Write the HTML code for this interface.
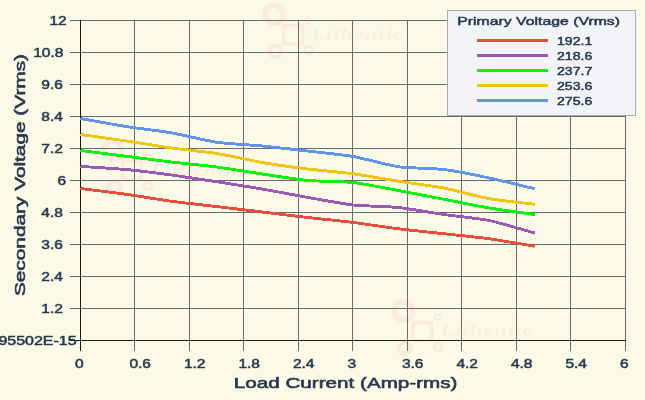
<!DOCTYPE html>
<html lang="en"><head><meta charset="utf-8"><title>Secondary Voltage vs Load Current</title>
<style>html,body{margin:0;padding:0;background:#fbfae6;}body{width:645px;height:400px;overflow:hidden}</style>
</head><body>
<svg width="645" height="400" viewBox="0 0 645 400" style="display:block">
<rect width="645" height="400" fill="#fbfae6"/>
<g transform="translate(0,0)" fill="none" stroke="#fbebd9"><circle cx="274.1" cy="14.2" r="9.1" stroke-width="5.8"/><path fill="#fbebd9" stroke="none" fill-rule="evenodd" d="M282.1,24.1h22.3v21.5h-22.3zM291,27h4a6,6 0 0 1 6,6v3.6a6,6 0 0 1 -6,6h-4a6,6 0 0 1 -6,-6v-3.6a6,6 0 0 1 6,-6z"/><circle cx="308.1" cy="20.6" r="2.8" stroke-width="1.9"/><circle cx="309" cy="50" r="3.95" stroke-width="2.9"/><circle cx="275.6" cy="51.25" r="5.8" stroke-width="4.6"/><text transform="translate(311.3,39.5) scale(1.36,1)" fill="#fceedd" stroke="none" font-family="&quot;Liberation Serif&quot;, &quot;Times New Roman&quot;, serif" font-style="italic" font-weight="bold" font-size="16" letter-spacing="1">Lithentic</text></g>
<g transform="translate(-161.25,135.75)" fill="none" stroke="#fbebd9"><circle cx="274.1" cy="14.2" r="9.1" stroke-width="5.8"/><path fill="#fbebd9" stroke="none" fill-rule="evenodd" d="M282.1,24.1h22.3v21.5h-22.3zM291,27h4a6,6 0 0 1 6,6v3.6a6,6 0 0 1 -6,6h-4a6,6 0 0 1 -6,-6v-3.6a6,6 0 0 1 6,-6z"/><circle cx="308.1" cy="20.6" r="2.8" stroke-width="1.9"/><circle cx="309" cy="50" r="3.95" stroke-width="2.9"/><circle cx="275.6" cy="51.25" r="5.8" stroke-width="4.6"/><text transform="translate(311.3,39.5) scale(1.36,1)" fill="#fceedd" stroke="none" font-family="&quot;Liberation Serif&quot;, &quot;Times New Roman&quot;, serif" font-style="italic" font-weight="bold" font-size="16" letter-spacing="1">Lithentic</text></g>
<g transform="translate(129.25,296.75)" fill="none" stroke="#fbebd9"><circle cx="274.1" cy="14.2" r="9.1" stroke-width="5.8"/><path fill="#fbebd9" stroke="none" fill-rule="evenodd" d="M282.1,24.1h22.3v21.5h-22.3zM291,27h4a6,6 0 0 1 6,6v3.6a6,6 0 0 1 -6,6h-4a6,6 0 0 1 -6,-6v-3.6a6,6 0 0 1 6,-6z"/><circle cx="308.1" cy="20.6" r="2.8" stroke-width="1.9"/><circle cx="309" cy="50" r="3.95" stroke-width="2.9"/><circle cx="275.6" cy="51.25" r="5.8" stroke-width="4.6"/><text transform="translate(311.3,39.5) scale(1.36,1)" fill="#fceedd" stroke="none" font-family="&quot;Liberation Serif&quot;, &quot;Times New Roman&quot;, serif" font-style="italic" font-weight="bold" font-size="16" letter-spacing="1">Lithentic</text></g>
<rect x="70" y="20" width="555.5" height="1" fill="#676b72"/><rect x="70" y="52" width="555.5" height="1" fill="#676b72"/><rect x="70" y="84" width="555.5" height="1" fill="#676b72"/><rect x="70" y="116" width="555.5" height="1" fill="#676b72"/><rect x="70" y="148" width="555.5" height="1" fill="#676b72"/><rect x="70" y="180" width="555.5" height="1" fill="#676b72"/><rect x="70" y="212" width="555.5" height="1" fill="#676b72"/><rect x="70" y="244" width="555.5" height="1" fill="#676b72"/><rect x="70" y="276" width="555.5" height="1" fill="#676b72"/><rect x="70" y="308" width="555.5" height="1" fill="#676b72"/><rect x="134" y="20" width="1" height="330.9" fill="#676b72"/><rect x="189" y="20" width="1" height="330.9" fill="#676b72"/><rect x="243" y="20" width="1" height="330.9" fill="#676b72"/><rect x="298" y="20" width="1" height="330.9" fill="#676b72"/><rect x="352" y="20" width="1" height="330.9" fill="#676b72"/><rect x="407" y="20" width="1" height="330.9" fill="#676b72"/><rect x="461" y="20" width="1" height="330.9" fill="#676b72"/><rect x="516" y="20" width="1" height="330.9" fill="#676b72"/><rect x="570" y="20" width="1" height="330.9" fill="#676b72"/><rect x="625" y="20" width="1" height="330.9" fill="#676b72"/>
<rect x="80" y="20" width="1" height="330.9" fill="#1c1a08"/>
<rect x="70" y="340" width="555.5" height="1" fill="#1c1a08"/>
<path d="M80.50,188.50C85.04,189.07 116.83,192.97 125.92,194.25C135.00,195.53 162.25,200.01 171.33,201.25C180.42,202.49 207.67,205.53 216.75,206.60C225.83,207.67 253.08,210.91 262.17,212.00C271.25,213.09 298.50,216.46 307.58,217.50C316.67,218.54 343.92,221.27 353.00,222.40C362.08,223.53 389.33,227.67 398.42,228.80C407.50,229.94 434.75,232.75 443.83,233.75C452.92,234.75 480.17,237.50 489.25,238.75C498.33,240.00 530.12,245.50 534.67,246.25" fill="none" stroke="#e74c3c" stroke-width="2.9" stroke-linejoin="round" shape-rendering="crispEdges"/>
<path d="M80.50,166.40C85.04,166.71 116.83,168.64 125.92,169.50C135.00,170.36 162.25,173.78 171.33,175.00C180.42,176.22 207.67,180.35 216.75,181.75C225.83,183.15 253.08,187.44 262.17,189.00C271.25,190.56 298.50,195.80 307.58,197.40C316.67,199.00 343.92,203.99 353.00,205.00C362.08,206.01 389.33,206.55 398.42,207.50C407.50,208.45 434.75,213.20 443.83,214.50C452.92,215.80 480.17,218.65 489.25,220.50C498.33,222.35 530.12,231.75 534.67,233.00" fill="none" stroke="#9b59b6" stroke-width="2.9" stroke-linejoin="round" shape-rendering="crispEdges"/>
<path d="M80.50,150.50C85.04,151.07 116.83,155.10 125.92,156.25C135.00,157.40 162.25,160.93 171.33,162.00C180.42,163.07 207.67,165.80 216.75,167.00C225.83,168.20 253.08,172.65 262.17,174.00C271.25,175.35 298.50,179.65 307.58,180.50C316.67,181.35 343.92,181.50 353.00,182.50C362.08,183.50 389.33,188.82 398.42,190.50C407.50,192.18 434.75,197.50 443.83,199.25C452.92,201.00 480.17,206.47 489.25,208.00C498.33,209.53 530.12,213.85 534.67,214.50" fill="none" stroke="#05f50f" stroke-width="2.9" stroke-linejoin="round" shape-rendering="crispEdges"/>
<path d="M80.50,134.50C85.04,135.14 116.83,139.55 125.92,140.90C135.00,142.25 162.25,146.74 171.33,148.00C180.42,149.26 207.67,152.05 216.75,153.50C225.83,154.95 253.08,160.95 262.17,162.50C271.25,164.05 298.50,167.88 307.58,169.00C316.67,170.12 343.92,172.53 353.00,173.75C362.08,174.97 389.33,179.82 398.42,181.25C407.50,182.68 434.75,186.25 443.83,188.00C452.92,189.75 480.17,197.12 489.25,198.75C498.33,200.38 530.12,203.70 534.67,204.25" fill="none" stroke="#f1c40f" stroke-width="2.9" stroke-linejoin="round" shape-rendering="crispEdges"/>
<path d="M80.50,118.50C85.04,119.30 116.83,125.07 125.92,126.50C135.00,127.93 162.25,131.22 171.33,132.80C180.42,134.38 207.67,140.98 216.75,142.30C225.83,143.62 253.08,145.13 262.17,146.00C271.25,146.87 298.50,149.95 307.58,151.00C316.67,152.05 343.92,154.93 353.00,156.50C362.08,158.07 389.33,165.45 398.42,166.75C407.50,168.05 434.75,168.38 443.83,169.50C452.92,170.62 480.17,176.07 489.25,178.00C498.33,179.93 530.12,187.68 534.67,188.75" fill="none" stroke="#5f93ee" stroke-width="2.9" stroke-linejoin="round" shape-rendering="crispEdges"/>
<rect x="447.5" y="10.5" width="188" height="105" fill="#f3f4f7" stroke="#a4abb6" stroke-width="1"/>
<rect x="477" y="39" width="71" height="3" fill="#e74c3c"/>
<rect x="477" y="54" width="71" height="3" fill="#9b59b6"/>
<rect x="477" y="69" width="71" height="3" fill="#05f50f"/>
<rect x="477" y="84" width="71" height="3" fill="#f1c40f"/>
<rect x="477" y="99" width="71" height="3" fill="#5f93ee"/>
<g font-family="&quot;Liberation Sans&quot;, Arial, Helvetica, sans-serif" fill="#27384f" stroke="#27384f" stroke-width="0.5" stroke-linejoin="round">
<text transform="translate(457.3,24.5) scale(1.375,1)" font-size="11.5" text-anchor="start" >Primary Voltage (Vrms)</text>
<text transform="translate(557.0,44.6) scale(1.225,1)" font-size="11.5" text-anchor="start" >192.1</text>
<text transform="translate(557.0,59.6) scale(1.225,1)" font-size="11.5" text-anchor="start" >218.6</text>
<text transform="translate(557.0,74.6) scale(1.225,1)" font-size="11.5" text-anchor="start" >237.7</text>
<text transform="translate(557.0,89.6) scale(1.225,1)" font-size="11.5" text-anchor="start" >253.6</text>
<text transform="translate(557.0,104.6) scale(1.225,1)" font-size="11.5" text-anchor="start" >275.6</text>
<text transform="translate(49.40,24.60) scale(1.255,1)" font-size="12.4" text-anchor="start" >12</text>
<text transform="translate(33.15,56.60) scale(1.255,1)" font-size="12.4" text-anchor="start" >10.8</text>
<text transform="translate(41.28,88.60) scale(1.255,1)" font-size="12.4" text-anchor="start" >9.6</text>
<text transform="translate(41.28,120.60) scale(1.255,1)" font-size="12.4" text-anchor="start" >8.4</text>
<text transform="translate(41.28,152.60) scale(1.255,1)" font-size="12.4" text-anchor="start" >7.2</text>
<text transform="translate(57.53,184.60) scale(1.255,1)" font-size="12.4" text-anchor="start" >6</text>
<text transform="translate(41.28,216.60) scale(1.255,1)" font-size="12.4" text-anchor="start" >4.8</text>
<text transform="translate(41.28,248.60) scale(1.255,1)" font-size="12.4" text-anchor="start" >3.6</text>
<text transform="translate(41.28,280.60) scale(1.255,1)" font-size="12.4" text-anchor="start" >2.4</text>
<text transform="translate(41.28,312.60) scale(1.255,1)" font-size="12.4" text-anchor="start" >1.2</text>
<text transform="translate(76.6,344.8) scale(1.29,1)" font-size="12.4" text-anchor="end" >1.3322676295502E-15</text>
<text transform="translate(74.90,368.0) scale(1.255,1)" font-size="12.4" text-anchor="start" >0</text>
<text transform="translate(129.40,368.0) scale(1.255,1)" font-size="12.4" text-anchor="start" >0.6</text>
<text transform="translate(183.90,368.0) scale(1.255,1)" font-size="12.4" text-anchor="start" >1.2</text>
<text transform="translate(238.40,368.0) scale(1.255,1)" font-size="12.4" text-anchor="start" >1.8</text>
<text transform="translate(292.90,368.0) scale(1.255,1)" font-size="12.4" text-anchor="start" >2.4</text>
<text transform="translate(347.40,368.0) scale(1.255,1)" font-size="12.4" text-anchor="start" >3</text>
<text transform="translate(401.90,368.0) scale(1.255,1)" font-size="12.4" text-anchor="start" >3.6</text>
<text transform="translate(456.40,368.0) scale(1.255,1)" font-size="12.4" text-anchor="start" >4.2</text>
<text transform="translate(510.90,368.0) scale(1.255,1)" font-size="12.4" text-anchor="start" >4.8</text>
<text transform="translate(565.40,368.0) scale(1.255,1)" font-size="12.4" text-anchor="start" >5.4</text>
<text transform="translate(619.90,368.0) scale(1.255,1)" font-size="12.4" text-anchor="start" >6</text>
<text transform="translate(233.8,387.7) scale(1.332,1)" font-size="15.5" text-anchor="start" stroke-width="0.6">Load Current (Amp-rms)</text>
<text transform="translate(25.2,296.1) rotate(-90) scale(1.343,1)" font-size="15.5" stroke-width="0.6">Secondary Voltage (Vrms)</text>
</g>
</svg>
</body></html>
